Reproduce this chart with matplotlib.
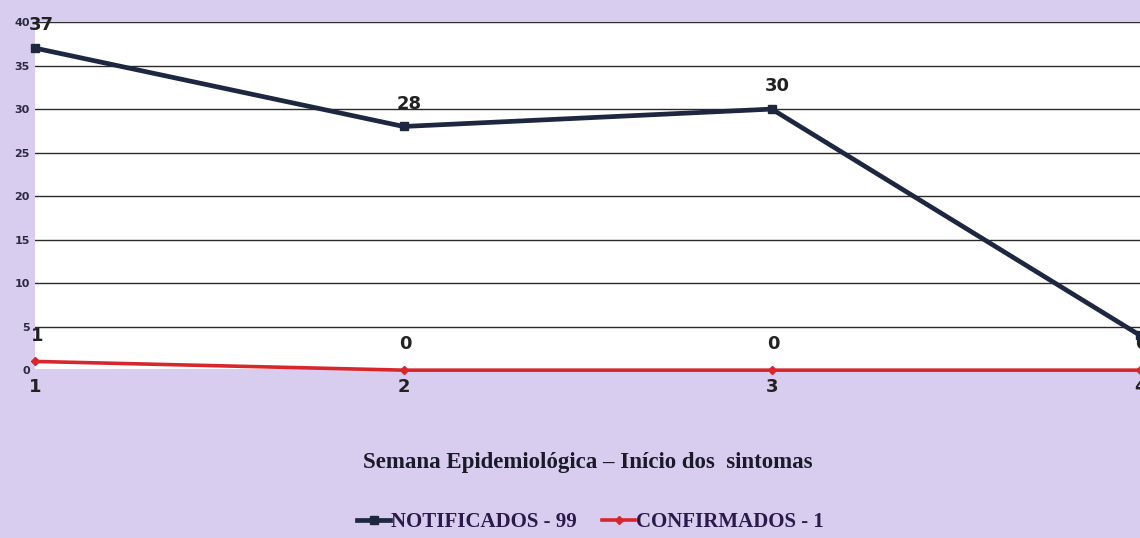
import matplotlib.pyplot as plt

# data
semanas = [1, 2, 3, 4]
notificados = [37, 28, 30, 4]
confirmados = [1, 0, 0, 0]
y_ticks = [0, 5, 10, 15, 20, 25, 30, 35, 40]

bg = '#d8cdee'
navy = '#1e2740'
red = '#d6282c'

fig = plt.figure(figsize=(11.4, 5.38), dpi=100, facecolor=bg)
ax = fig.add_axes([0.031, 0.312, 0.969, 0.647])
ax.set_facecolor('white')

ax.plot(semanas, notificados, color=navy, lw=3.4, marker='s', ms=6, label='NOTIFICADOS - 99', clip_on=False, zorder=4)
ax.plot(semanas, confirmados, color=red, lw=2.6, marker='D', ms=4, label='CONFIRMADOS - 1', clip_on=False, zorder=4)

# point labels
for x, v in zip(semanas, notificados):
    ax.annotate(str(v), (x, v), xytext=(4, 10), textcoords='offset points', ha='center', va='bottom',
                fontsize=13, fontweight='bold', color='#222222', annotation_clip=False)
for x, v in zip(semanas, confirmados):
    ax.annotate(str(v), (x, v), xytext=(1, 12), textcoords='offset points', ha='center', va='bottom',
                fontsize=13, fontweight='bold', color='#222222', annotation_clip=False)

ax.set_xlim(1, 4)
ax.set_ylim(0, 40)
ax.set_yticks(y_ticks)
ax.set_yticklabels([str(t) for t in y_ticks], fontsize=8, color='#2a2a40', fontweight='bold')
ax.set_xticks(semanas)
ax.set_xticklabels([str(s) for s in semanas], fontsize=13, fontweight='bold', color='#222222')
ax.tick_params(axis='y', length=0, pad=4)
ax.tick_params(axis='x', length=0, pad=6)
ax.grid(axis='y', color='#2a2a2a', lw=1.0)
ax.set_axisbelow(True)
for s in ax.spines.values():
    s.set_visible(False)

ax.set_xlabel('Semana Epidemiológica – Início dos  sintomas', fontsize=16.5, fontweight='bold',
              family='Liberation Serif', color='#1a1a2a', labelpad=40)

leg = fig.legend(loc='center', bbox_to_anchor=(0.518, 0.03), ncol=2, frameon=False,
                 prop={'family': 'Liberation Serif', 'weight': 'bold', 'size': 15},
                 handlelength=1.6, columnspacing=1.2, handletextpad=0.05)
for t in leg.get_texts():
    t.set_color('#2a1a4a')

fig.savefig('out.png', dpi=100, facecolor=bg)
